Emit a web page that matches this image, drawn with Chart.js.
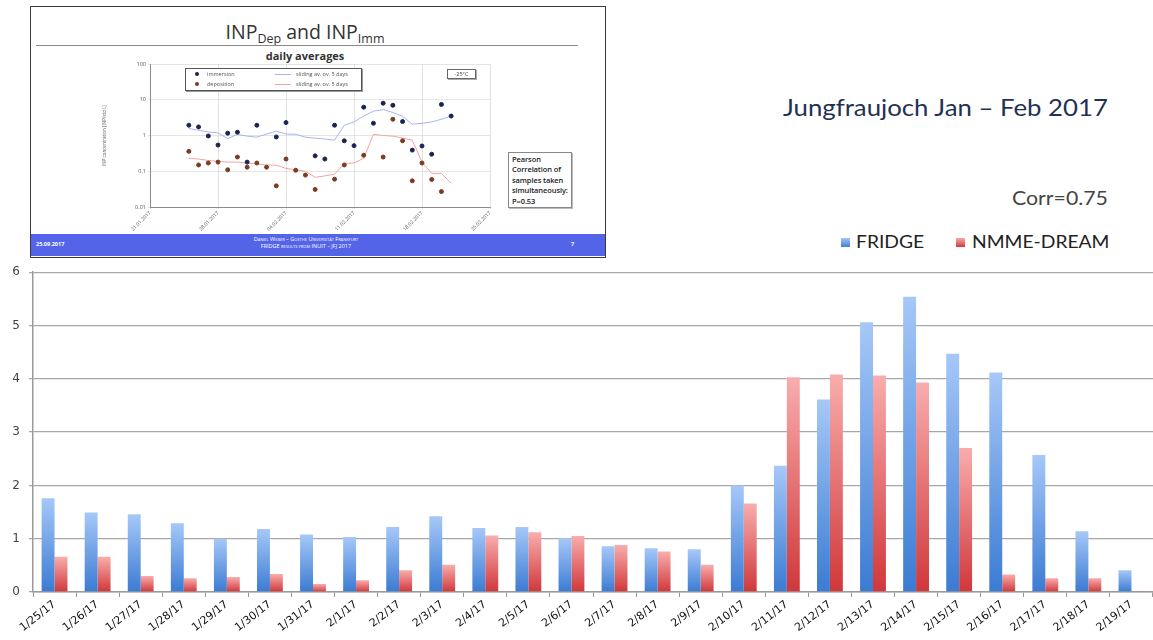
<!DOCTYPE html>
<html>
<head>
<meta charset="utf-8">
<script src="https://cdn.jsdelivr.net/npm/chart.js@4.4.1/dist/chart.umd.min.js"></script>
<style>
  html, body { margin: 0; padding: 0; background: #fff; }
  body { width: 1153px; height: 640px; position: relative; overflow: hidden; font-family: Lato, "Open Sans", sans-serif; }
  .abs { position: absolute; white-space: nowrap; }
  #inset { position: absolute; left: 30px; top: 6px; width: 574px; height: 250px; border: 1px solid #3a3a3a; background: #fff; }
  #title { left: 0; width: 610px; top: 18px; text-align: center; font-family: "Open Sans", sans-serif; font-size: 19.5px; color: #333; }
  #title sub { font-size: 12.5px; vertical-align: -4px; }
  #rule { left: 36px; top: 45px; width: 542px; height: 1px; background: #8a8a8a; }
  #daily { left: 0; width: 610px; top: 47.5px; text-align: center; font-family: "Open Sans", sans-serif; font-weight: 700; font-size: 11px; color: #333; }
  #ileg { left: 185px; top: 68px; width: 175px; height: 21px; border: 1px solid #555; box-shadow: 1px 1px 0 #999; background: #fff; }
  .lt { font-family: "Open Sans", sans-serif; font-size: 5.5px; color: #555; }
  .dot { width: 4px; height: 4px; border-radius: 50%; }
  #temp { left: 447px; top: 69px; width: 27px; height: 8px; border: 1px solid #666; box-shadow: 1px 1px 0 #aaa; font-family: "Open Sans", sans-serif; font-size: 5.5px; color: #444; text-align: center; line-height: 8px; }
  #pearson { left: 508px; top: 152px; width: 59px; height: 53px; border: 1px solid #888; box-shadow: 1px 1px 0 #bbb; padding: 1px 0 0 3px; font-family: "Open Sans", sans-serif; font-weight: 600; font-size: 7.5px; line-height: 10.4px; color: #222; white-space: normal; letter-spacing: -0.1px; }
  #footer { left: 31px; top: 234px; width: 574px; height: 22px; background: #5464e8; }
  .ft { color: #fff; font-family: "Open Sans", sans-serif; font-size: 5.5px; }
  .sx { transform-origin: 0 0; transform: scaleX(1.12); }
  #jung { left: 783px; top: 93px; font-family: Lato, sans-serif; font-size: 23px; color: #1f3256; }
  #corr { left: 1012px; top: 186px; font-family: Lato, sans-serif; font-size: 19px; color: #444; }
  .lg { top: 230px; font-family: Lato, sans-serif; font-size: 18px; color: #222; transform-origin: 0 0; transform: scaleX(1.07); }
  .sw { width: 9px; height: 9px; top: 238px; }
  #insetCanvas { position: absolute; left: 100px; top: 58px; }
  #mainCanvas { position: absolute; left: 0; top: 256px; }
</style>
</head>
<body>
<div id="inset"></div>
<div class="abs" id="title">INP<sub>Dep</sub> and INP<sub>Imm</sub></div>
<div class="abs" id="rule"></div>
<div class="abs" id="daily">daily averages</div>
<canvas id="insetCanvas" width="400" height="175"></canvas>
<div class="abs" id="ileg"></div>
<div class="abs dot" style="left:195px;top:71.5px;background:#1b2350;"></div>
<div class="abs lt" style="left:207px;top:69.5px;">immersion</div>
<div class="abs" style="left:275px;top:73.5px;width:16px;height:1px;background:#a9b3f2;"></div>
<div class="abs lt" style="left:296px;top:69.5px;">sliding av. ov. 5 days</div>
<div class="abs dot" style="left:195px;top:82px;background:#7b3a22;"></div>
<div class="abs lt" style="left:207px;top:80px;">deposition</div>
<div class="abs" style="left:275px;top:84px;width:16px;height:1px;background:#f2a3a3;"></div>
<div class="abs lt" style="left:296px;top:80px;">sliding av. ov. 5 days</div>
<div class="abs" id="temp">-25°C</div>
<div class="abs" id="pearson">Pearson Correlation of samples taken simultaneously: P=0.53</div>
<div class="abs" id="footer"></div>
<div class="abs ft" style="left:36px;top:240px;font-weight:700;">25.09.2017</div>
<div class="abs ft" style="left:0;width:612px;top:236px;text-align:center;font-variant:small-caps;line-height:7px;">Daniel Weber – Goethe Universität Frankfurt<br>FRIDGE results from INUIT – JFJ 2017</div>
<div class="abs ft" style="left:571px;top:240px;font-weight:700;">7</div>

<div class="abs sx" id="jung">Jungfraujoch Jan – Feb 2017</div>
<div class="abs sx" id="corr">Corr=0.75</div>
<div class="abs sw" style="left:841px;background:linear-gradient(#a3c6f7,#3f7fd6);"></div>
<div class="abs lg" style="left:856px;">FRIDGE</div>
<div class="abs sw" style="left:956px;background:linear-gradient(#f9aaaa,#d03a3a);"></div>
<div class="abs lg" style="left:972px;">NMME-DREAM</div>

<canvas id="mainCanvas" width="1153" height="384"></canvas>

<script>
// ---------- main bar chart data ----------
const categories = ['1/25/17','1/26/17','1/27/17','1/28/17','1/29/17','1/30/17','1/31/17','2/1/17','2/2/17','2/3/17','2/4/17','2/5/17','2/6/17','2/7/17','2/8/17','2/9/17','2/10/17','2/11/17','2/12/17','2/13/17','2/14/17','2/15/17','2/16/17','2/17/17','2/18/17','2/19/17'];
const fridge = [1.76,1.49,1.46,1.29,1.00,1.18,1.08,1.03,1.22,1.42,1.20,1.22,1.01,0.86,0.82,0.80,2.00,2.37,3.61,5.06,5.54,4.47,4.12,2.57,1.14,0.41];
const nmmeDream = [0.66,0.66,0.30,0.26,0.28,0.34,0.15,0.22,0.41,0.51,1.06,1.12,1.05,0.88,0.76,0.51,1.66,4.03,4.08,4.06,3.93,2.70,0.33,0.26,0.26,0.02];
const yTicks = [0,1,2,3,4,5,6];

// ---------- inset chart data ----------
const insetDates = ['25.01','26.01','27.01','28.01','29.01','30.01','31.01','01.02','02.02','03.02','04.02','05.02','06.02','07.02','08.02','09.02','10.02','11.02','12.02','13.02','14.02','15.02','16.02','17.02','18.02','19.02','20.02','21.02'];
const immersion = [1.94,1.74,0.97,0.54,1.16,1.24,0.18,1.94,null,0.91,2.3,null,null,0.27,0.22,1.94,0.71,0.52,6.2,2.2,8.0,7.0,2.46,0.39,0.51,0.30,7.4,3.5];
const deposition = [0.36,0.15,0.17,0.18,0.11,0.25,0.13,0.17,0.13,0.039,0.22,0.107,0.078,0.031,null,0.06,0.15,null,0.28,null,0.25,2.85,0.71,0.054,0.17,0.059,0.027,null];
const slidingImm = [1.57,1.4,1.26,1.18,0.82,1.07,0.96,0.9,1.1,1.32,1.1,1.08,0.9,0.84,0.8,0.74,1.94,2.4,3.5,4.8,5.3,4.4,3.45,2.07,2.2,2.4,2.85,3.5];
const slidingDep = [0.23,0.22,0.2,0.19,0.18,0.18,0.17,0.16,0.15,0.148,0.12,0.11,0.1,0.068,0.074,0.083,0.165,0.17,0.23,1.08,1.0,0.96,0.85,0.74,0.18,0.087,0.087,0.046];
const insetXTickLabels = ['21.01.2017','28.01.2017','04.02.2017','11.02.2017','18.02.2017','25.02.2017'];
const insetYTicks = [0.01,0.1,1,10,100];

// ---------- helpers ----------
function dayOffset(s) { // days since 21.01.2017
  const [d, m] = s.split('.').map(Number);
  return m === 1 ? d - 21 : d + 10;
}
function pts(vals) {
  return insetDates.map((d, i) => vals[i] == null ? null : { x: dayOffset(d), y: vals[i] }).filter(Boolean);
}
function barGradient(light, dark) {
  return (ctx) => {
    const chart = ctx.chart;
    if (ctx.type !== 'data' || !chart.chartArea || !ctx.parsed) return dark;
    const ys = chart.scales.y;
    const top = ys.getPixelForValue(ctx.parsed.y);
    const base = ys.getPixelForValue(0);
    if (!isFinite(top) || Math.abs(base - top) < 1) return dark;
    const g = chart.ctx.createLinearGradient(0, top, 0, base);
    g.addColorStop(0, light);
    g.addColorStop(1, dark);
    return g;
  };
}

// ---------- main chart ----------
new Chart(document.getElementById('mainCanvas'), {
  type: 'bar',
  data: {
    labels: categories,
    datasets: [
      { label: 'FRIDGE', data: fridge, backgroundColor: barGradient('#a6c8f8', '#3b7bd3'), categoryPercentage: 0.6, barPercentage: 1.0 },
      { label: 'NMME-DREAM', data: nmmeDream, backgroundColor: barGradient('#f9adad', '#d0373a'), categoryPercentage: 0.6, barPercentage: 1.0 }
    ]
  },
  options: {
    responsive: false,
    animation: false,
    layout: { padding: { top: 4, right: 0, left: 0, bottom: 0 } },
    plugins: { legend: { display: false }, tooltip: { enabled: false } },
    scales: {
      x: {
        grid: { display: true, drawOnChartArea: false, drawTicks: true, tickLength: 5, color: '#9a9a9a', offset: true },
        border: { color: '#9a9a9a', width: 1.5 },
        ticks: { color: '#111', font: { family: 'DejaVu Sans', size: 11 }, minRotation: 38, maxRotation: 38, autoSkip: false, padding: 1 },
        afterFit: (s) => { s.height = 48; }
      },
      y: {
        min: 0, max: 6,
        afterBuildTicks: (s) => { s.ticks = yTicks.map(v => ({ value: v })); },
        grid: { color: '#a8a8a8', lineWidth: 1.3, tickLength: 4 },
        border: { color: '#9a9a9a', width: 1.5 },
        ticks: { color: '#444', font: { family: 'DejaVu Sans', size: 12 }, padding: 9 },
        afterFit: (s) => { s.width = 33; }
      }
    }
  }
});

// ---------- inset chart ----------
new Chart(document.getElementById('insetCanvas'), {
  type: 'scatter',
  data: {
    datasets: [
      { label: 'immersion', data: pts(immersion), backgroundColor: '#1b2350', borderColor: '#1b2350', pointRadius: 2, showLine: false },
      { label: 'deposition', data: pts(deposition), backgroundColor: '#7b3a22', borderColor: '#7b3a22', pointRadius: 2, showLine: false },
      { label: 'sliding av. ov. 5 days', data: pts(slidingImm), borderColor: '#a9b3f2', borderWidth: 1, pointRadius: 0, showLine: true },
      { label: 'sliding av. ov. 5 days ', data: pts(slidingDep), borderColor: '#f2a3a3', borderWidth: 1, pointRadius: 0, showLine: true }
    ]
  },
  options: {
    responsive: false,
    animation: false,
    layout: { padding: { top: 6, right: 10, left: 0, bottom: 0 } },
    plugins: { legend: { display: false }, tooltip: { enabled: false } },
    scales: {
      x: {
        type: 'linear', min: 0, max: 35,
        afterBuildTicks: (s) => { s.ticks = insetXTickLabels.map((t, i) => ({ value: i * 7 })); },
        grid: { color: '#cfcfcf', lineWidth: 0.6, tickLength: 2 },
        border: { color: '#8a8a8a', width: 1 },
        ticks: { color: '#555', font: { family: 'Open Sans', size: 5 }, minRotation: 45, maxRotation: 45, padding: 1,
                 callback: (v, i) => insetXTickLabels[i] },
        afterFit: (s) => { s.height = 26; }
      },
      y: {
        type: 'logarithmic', min: 0.01, max: 100,
        afterBuildTicks: (s) => { s.ticks = insetYTicks.map(v => ({ value: v })); },
        grid: { color: '#d4d4d4', lineWidth: 0.6, tickLength: 2 },
        border: { color: '#8a8a8a', width: 1 },
        ticks: { color: '#555', font: { family: 'Open Sans', size: 5.5 }, padding: 2,
                 callback: (v) => String(v) },
        title: { display: true, text: 'INP concentration [INP/std L]', color: '#555', font: { family: 'Open Sans', size: 4.5 }, padding: 2 },
        afterFit: (s) => { s.width = 50; }
      }
    }
  }
});
</script>
</body>
</html>
